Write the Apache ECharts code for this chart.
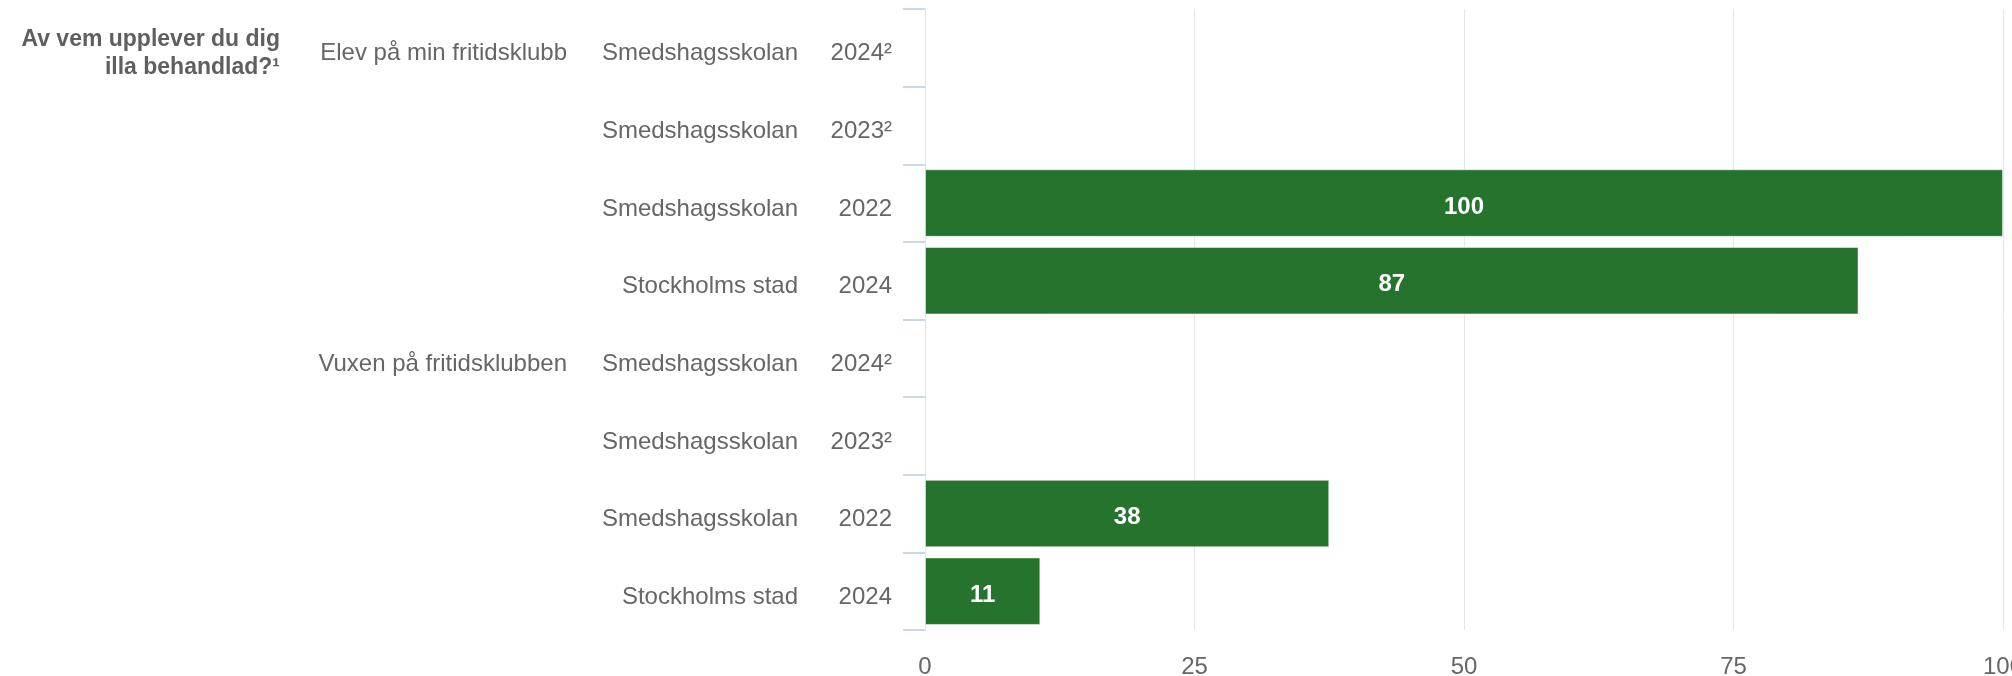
<!DOCTYPE html>
<html>
<head>
<meta charset="utf-8">
<script src="https://cdn.jsdelivr.net/npm/echarts@6/dist/echarts.min.js"></script>
<style>
html,body{margin:0;padding:0;background:#fff;}
#chart{width:2012px;height:676px;}
</style>
</head>
<body>
<div id="chart"></div>
<script>
// ---- data ----
const questionTitle = ['Av vem upplever du dig', 'illa behandlad?\u00B9'];
const groups = ['Elev på min fritidsklubb', 'Vuxen på fritidsklubben'];
const units = ['Smedshagsskolan', 'Smedshagsskolan', 'Smedshagsskolan', 'Stockholms stad'];
const years = ['2024\u00B2', '2023\u00B2', '2022', '2024'];
const elevValues = [null, null, 100, 86.6];
const vuxenValues = [null, null, 37.5, 10.7];
const valueTicks = [0, 25, 50, 75, 100];

// ---- build rows ----
const rowGroup = [], rowUnit = [], rowYear = [], rowValue = [], rowIds = [];
[elevValues, vuxenValues].forEach((vals, g) => {
  vals.forEach((v, i) => {
    rowGroup.push(i === 0 ? groups[g] : '');
    rowUnit.push(units[i]);
    rowYear.push(years[i]);
    rowValue.push(v);
    rowIds.push('r' + rowIds.length);
  });
});

const FONT = "'Liberation Sans', Arial, sans-serif";
const TXT = '#666666';

function labelAxis(texts, margin) {
  return {
    type: 'category',
    data: rowIds,
    inverse: true,
    position: 'left',
    gridIndex: 0,
    axisLine: { show: false },
    axisTick: { show: false },
    splitLine: { show: false },
    axisLabel: {
      interval: 0,
      margin: margin,
      color: TXT,
      fontSize: 24,
      fontFamily: FONT,
      align: 'right',
      verticalAlign: 'top',
      lineHeight: 12,
      formatter: (v, i) => texts[i]
    }
  };
}

const chart = echarts.init(document.getElementById('chart'), null, { renderer: 'canvas' });

const titleText = { fontWeight: 'bold', fontSize: 23, fontFamily: FONT, color: '#5f5f5f' };

chart.setOption({
  animation: false,
  backgroundColor: '#ffffff',
  title: questionTitle.map((line, i) => ({
    text: line,
    left: 280,
    top: 28 + i * 28,
    padding: 0,
    textAlign: 'right',
    textStyle: titleText
  })),
  grid: { left: 925, right: 9, top: 9, bottom: 46, containLabel: false, outerBoundsMode: 'none' },
  xAxis: {
    type: 'value',
    min: valueTicks[0],
    max: valueTicks[valueTicks.length - 1],
    interval: valueTicks[1] - valueTicks[0],
    axisLine: { show: false },
    axisTick: { show: false },
    splitLine: { show: true, lineStyle: { color: '#e6e6e6', width: 1 } },
    axisLabel: { color: TXT, fontSize: 24, fontFamily: FONT, margin: 25 }
  },
  yAxis: [
    {
      type: 'category',
      data: rowIds,
      inverse: true,
      position: 'left',
      axisLine: { show: true, lineStyle: { color: '#e3e3e3', width: 1 } },
      axisTick: { show: true, length: 22, lineStyle: { color: '#ccd6eb', width: 2 } },
      splitLine: { show: false },
      axisLabel: {
        interval: 0, margin: 33, color: TXT, fontSize: 24, fontFamily: FONT,
        verticalAlign: 'top', lineHeight: 12,
        formatter: (v, i) => rowYear[i]
      }
    },
    labelAxis(rowUnit, 127),
    labelAxis(rowGroup, 358)
  ],
  series: [{
    type: 'bar',
    yAxisIndex: 0,
    data: rowValue,
    barCategoryGap: '13%',
    itemStyle: { color: '#26732e', borderColor: 'rgba(255,255,255,0.5)', borderWidth: 1 },
    label: {
      show: true,
      position: 'inside',
      offset: [0, 4],
      color: '#ffffff',
      fontSize: 24,
      fontWeight: 'bold',
      fontFamily: FONT,
      formatter: p => p.value == null ? '' : String(Math.round(p.value))
    },
    silent: true
  }]
});
</script>
</body>
</html>
